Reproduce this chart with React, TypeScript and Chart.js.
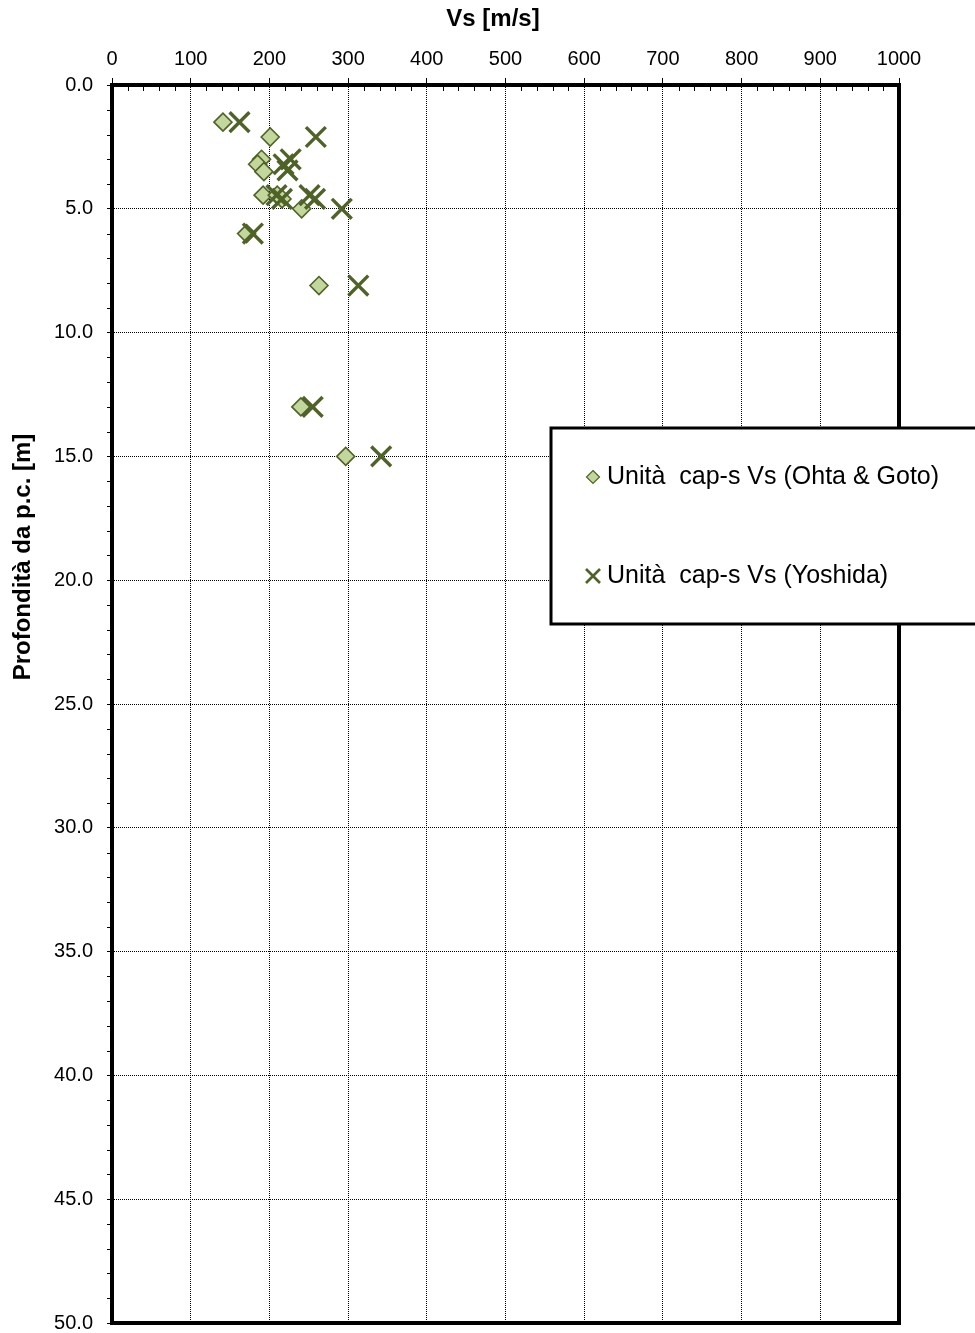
import React, { useEffect, useRef } from 'react';
import { Chart, registerables } from 'chart.js';

Chart.register(...registerables);

// ---- data ----
const xTickValues = [0, 100, 200, 300, 400, 500, 600, 700, 800, 900, 1000];
const yTickValues = [0, 5, 10, 15, 20, 25, 30, 35, 40, 45, 50];

const ohtaVs = [141, 201, 190, 185, 193, 192, 210, 216, 241, 171, 263, 240, 297];
const ohtaDepth = [1.5, 2.1, 3.0, 3.2, 3.5, 4.45, 4.45, 4.6, 5.0, 6.0, 8.1, 13.0, 15.0];

const yoshidaVs = [162, 259, 227, 218, 223, 209, 251, 216, 258, 292, 179, 313, 255, 342];
const yoshidaDepth = [1.5, 2.1, 3.0, 3.2, 3.45, 4.45, 4.45, 4.6, 4.6, 5.0, 6.0, 8.1, 13.0, 15.0];

const seriesLabels = ['Unità  cap-s Vs (Ohta & Goto)', 'Unità  cap-s Vs (Yoshida)'];
const xTitle = 'Vs [m/s]';
const yTitle = 'Profondità da p.c. [m]';

const FONT = "'Liberation Sans', Arial, sans-serif";
const LIGHT = '#c3d69b';
const DARK = '#4f6228';

const decorPlugin = {
  id: 'decor',
  beforeDatasetsDraw(chart: any) {
    const { ctx, chartArea: a, scales } = chart;
    const x = scales.x;
    const y = scales.y;
    ctx.save();
    ctx.strokeStyle = '#000';
    ctx.lineWidth = 1;
    ctx.beginPath();
    for (let v = 20; v < 1000; v += 20) {
      if (v % 100 === 0) continue;
      const px = Math.round(x.getPixelForValue(v)) + 0.5;
      ctx.moveTo(px, a.top);
      ctx.lineTo(px, a.top + 6);
    }
    for (let v = 1; v < 50; v++) {
      if (v % 5 === 0) continue;
      const py = Math.round(y.getPixelForValue(v)) + 0.5;
      ctx.moveTo(a.left - 5, py);
      ctx.lineTo(a.left, py);
    }
    ctx.stroke();
    ctx.lineWidth = 4;
    ctx.strokeRect(a.left, a.top, a.right - a.left, a.bottom - a.top);
    ctx.restore();
  },
  afterDraw(chart: any) {
    const { ctx } = chart;
    ctx.save();
    // axis titles
    ctx.fillStyle = '#000';
    ctx.font = `bold 24px ${FONT}`;
    ctx.textAlign = 'center';
    ctx.textBaseline = 'middle';
    ctx.fillText(xTitle, 493, 19);
    ctx.save();
    ctx.translate(23, 557);
    ctx.rotate(-Math.PI / 2);
    ctx.fillText(yTitle, 0, 0);
    ctx.restore();

    // legend box
    ctx.fillStyle = '#fff';
    ctx.fillRect(551, 428, 440, 196);
    ctx.strokeStyle = '#000';
    ctx.lineWidth = 3;
    ctx.strokeRect(551, 428, 440, 196);

    // legend markers
    const mx = 593;
    const y1 = 477;
    const y2 = 576;
    ctx.beginPath();
    ctx.moveTo(mx, y1 - 6.5);
    ctx.lineTo(mx + 6.5, y1);
    ctx.lineTo(mx, y1 + 6.5);
    ctx.lineTo(mx - 6.5, y1);
    ctx.closePath();
    ctx.fillStyle = LIGHT;
    ctx.fill();
    ctx.strokeStyle = DARK;
    ctx.lineWidth = 1.2;
    ctx.stroke();

    ctx.beginPath();
    ctx.moveTo(mx - 7, y2 - 7);
    ctx.lineTo(mx + 7, y2 + 7);
    ctx.moveTo(mx + 7, y2 - 7);
    ctx.lineTo(mx - 7, y2 + 7);
    ctx.strokeStyle = DARK;
    ctx.lineWidth = 2.7;
    ctx.stroke();

    ctx.fillStyle = '#000';
    ctx.font = `25px ${FONT}`;
    ctx.textAlign = 'left';
    ctx.textBaseline = 'middle';
    ctx.fillText(seriesLabels[0], 607, y1);
    ctx.fillText(seriesLabels[1], 607, y2);
    ctx.restore();
  },
};

export default function App() {
  const canvasRef = useRef<HTMLCanvasElement | null>(null);

  useEffect(() => {
    const canvas = canvasRef.current;
    if (!canvas) return;
    const ohtaPoints = ohtaVs.map((v, i) => ({ x: v, y: ohtaDepth[i] }));
    const yoshidaPoints = yoshidaVs.map((v, i) => ({ x: v, y: yoshidaDepth[i] }));

    const chart = new Chart(canvas, {
      type: 'scatter',
      data: {
        datasets: [
          {
            label: seriesLabels[0],
            data: ohtaPoints,
            pointStyle: 'rectRot',
            pointRadius: 9,
            pointHoverRadius: 9,
            backgroundColor: LIGHT,
            borderColor: DARK,
            borderWidth: 1.6,
            order: 1,
          },
          {
            label: seriesLabels[1],
            data: yoshidaPoints,
            pointStyle: 'crossRot',
            pointRadius: 14,
            pointHoverRadius: 14,
            backgroundColor: DARK,
            borderColor: DARK,
            borderWidth: 3.4,
            order: 0,
          },
        ],
      },
      options: {
        responsive: false,
        animation: false,
        events: [],
        layout: { autoPadding: false, padding: { left: 0, top: 0, right: 76, bottom: 10 } },
        plugins: {
          legend: { display: false },
          tooltip: { enabled: false },
          title: { display: false },
        },
        scales: {
          x: {
            type: 'linear',
            position: 'top',
            min: 0,
            max: 1000,
            afterFit(scale: any) {
              scale.height = 85;
              scale.paddingLeft = 0;
              scale.paddingRight = 0;
            },
            afterBuildTicks(scale: any) {
              scale.ticks = xTickValues.map((v) => ({ value: v }));
            },
            ticks: {
              color: '#000',
              font: { family: FONT, size: 20, lineHeight: 1 },
              padding: 9,
              maxRotation: 0,
              callback: (v: any) => String(v),
            },
            grid: {
              color: '#000',
              lineWidth: 1,
              tickLength: 7,
              tickColor: '#000',
              drawTicks: true,
            },
            border: { display: false, dash: [1, 1] },
          },
          y: {
            type: 'linear',
            position: 'left',
            reverse: true,
            min: 0,
            max: 50,
            afterFit(scale: any) {
              scale.width = 112;
              scale.paddingTop = 0;
              scale.paddingBottom = 0;
            },
            afterBuildTicks(scale: any) {
              scale.ticks = yTickValues.map((v) => ({ value: v }));
            },
            ticks: {
              color: '#000',
              font: { family: FONT, size: 20, lineHeight: 1 },
              padding: 14,
              callback: (v: any) => Number(v).toFixed(1),
            },
            grid: {
              color: '#000',
              lineWidth: 1,
              tickLength: 5,
              tickColor: '#000',
              drawTicks: true,
            },
            border: { display: false, dash: [1, 1] },
          },
        },
      },
      plugins: [decorPlugin],
    } as any);

    return () => {
      chart.destroy();
    };
  }, []);

  return (
    <div style={{ position: 'absolute', left: 0, top: 0, width: 975, height: 1333, background: '#fff' }}>
      <canvas ref={canvasRef} width={975} height={1333} style={{ display: 'block' }} />
    </div>
  );
}
